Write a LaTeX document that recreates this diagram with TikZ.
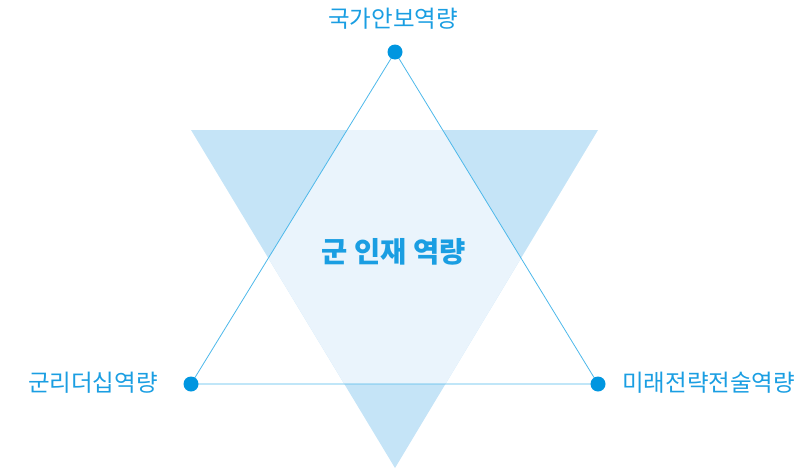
\documentclass[tikz,border=0pt]{standalone}
\usepackage{fontspec}
\setmainfont{Noto Sans CJK KR}
\definecolor{triA}{HTML}{C5E4F7}
\definecolor{triB}{HTML}{EAF4FC}
\definecolor{lineC}{HTML}{4DB8EA}
\definecolor{dotC}{HTML}{0096E0}
\definecolor{txtC}{HTML}{1A9EE2}
\begin{document}
\begin{tikzpicture}[x=1pt,y=-1pt,
  dot/.style={circle,fill=dotC,inner sep=0pt,minimum size=15pt},
  lab/.style={text=txtC,font=\fontsize{23.5}{26}\selectfont,inner sep=0pt}]
\useasboundingbox (0,0) rectangle (812,469);
% inverted triangle
\coordinate (p1) at (191,130);
\coordinate (p2) at (598,130);
\coordinate (p3) at (395,468);
% upright triangle
\coordinate (t) at (395,52);
\coordinate (l) at (191,384);
\coordinate (r) at (598,384);
\fill[triA] (p1) -- (p2) -- (p3) -- cycle;
\begin{scope}
  \clip (p1) -- (p2) -- (p3) -- cycle;
  \fill[triB] (t) -- (l) -- (r) -- cycle;
\end{scope}
\draw[lineC,line width=0.8pt] (t) -- (l) -- (r) -- cycle;
\node[dot] (dt) at (t) {};
\node[dot] (dl) at (l) {};
\node[dot] (dr) at (r) {};
\node[lab] (lt) at (393,19) {국가안보역량};
\node[lab,anchor=east] (ll) at (158,383) {군리더십역량};
\node[lab,anchor=west] (lr) at (622,383) {미래전략전술역량};
\node[text=txtC,font=\fontsize{28.5}{32}\selectfont\bfseries,inner sep=0pt] (c) at (394,252) {군 인재 역량};
\end{tikzpicture}
\end{document}
